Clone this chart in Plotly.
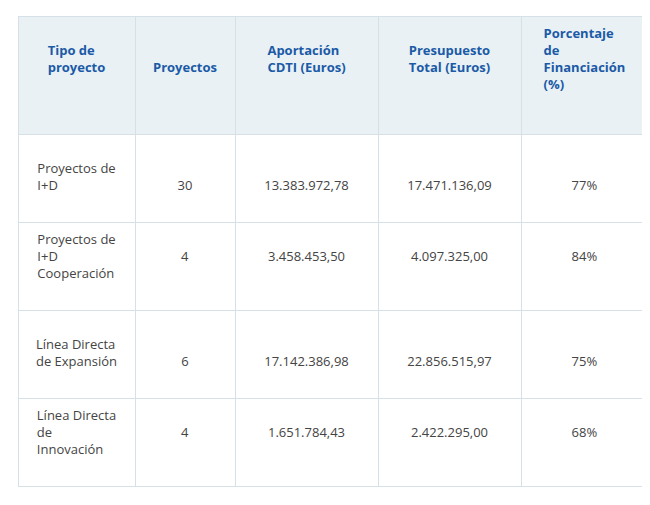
import plotly.graph_objects as go

S = "&nbsp;<br>"
headers = ["Tipo de<br>proyecto", "Proyectos", "Aportación<br>CDTI (Euros)", "Presupuesto<br>Total (Euros)", "Porcentaje<br>de<br>Financiación<br>(%)"]
tipos = [S + "Proyectos de<br>I+D", "Proyectos de<br>I+D<br>Cooperación", S + "Línea Directa<br>de Expansión", "Línea Directa<br>de<br>Innovación"]
proyectos = ["30", "4", "6", "4"]
aportacion = ["13.383.972,78", "3.458.453,50", "17.142.386,98", "1.651.784,43"]
presupuesto = ["17.471.136,09", "4.097.325,00", "22.856.515,97", "2.422.295,00"]
porcentaje = ["77%", "84%", "75%", "68%"]

pad = [S + S, S, S + S, S]
hdr = [S + "<b>" + headers[0] + "</b>", S + S + "<b>" + headers[1] + "</b>",
       S + "<b>" + headers[2] + "</b>", S + "<b>" + headers[3] + "</b>", "<b>" + headers[4] + "</b>"]

def padded(col):
    return [p + v for p, v in zip(pad, col)]

fig = go.Figure(go.Table(
    columnwidth=[117, 100, 143, 143, 127],
    header=dict(values=hdr, fill_color="#e9f1f5",
                line_color="#d5e1e6", align="center",
                font=dict(family="Open Sans", size=13, color="#1b5aa6"), height=118),
    cells=dict(values=[tipos, padded(proyectos), padded(aportacion), padded(presupuesto), padded(porcentaje)],
               fill_color="white", line_color="#d5e1e6", align="center",
               font=dict(family="Open Sans", size=13, color="#444444"), height=88),
    domain=dict(x=[10/650, 640/650], y=[0, 497/505]),
))
fig.update_layout(width=650, height=505, margin=dict(l=0, r=0, t=0, b=0),
                  paper_bgcolor="white")
fig.write_html("out.html")
